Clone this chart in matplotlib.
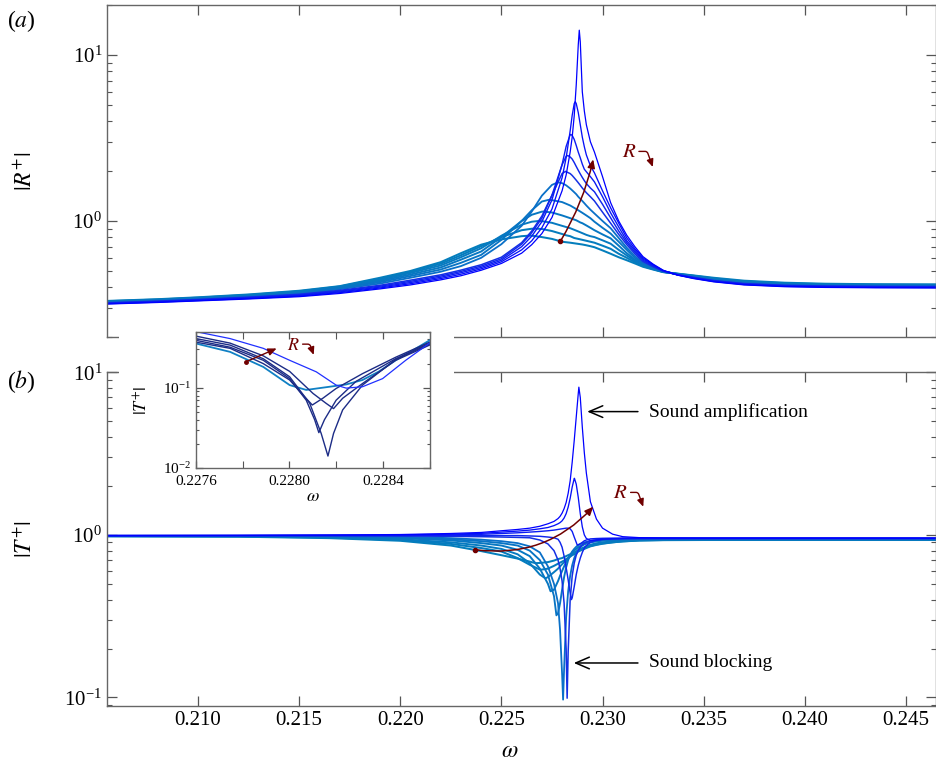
import numpy as np
import matplotlib
matplotlib.use('Agg')
import matplotlib.pyplot as plt
import matplotlib.ticker as mticker
import matplotlib.transforms as mtransforms
from matplotlib.patches import Rectangle

plt.rcParams['font.family'] = 'serif'
plt.rcParams['font.serif'] = ['Liberation Serif', 'DejaVu Serif']
plt.rcParams['mathtext.fontset'] = 'stix'

## |R+| curves, 11 values of R (index 0 = sharpest peak)
R_w = [0.2055, 0.208, 0.210, 0.2125, 0.215, 0.217, 0.219, 0.2205, 0.222, 0.223, 0.224, 0.225,
       0.226, 0.2265, 0.227, 0.2275, 0.228, 0.2282, 0.2284, 0.2285, 0.2286, 0.2287, 0.2288, 0.2289,
       0.2290, 0.2291, 0.2292, 0.2294,
       0.2296, 0.2300, 0.2304, 0.2308, 0.2312, 0.2316, 0.2320, 0.2325, 0.2330, 0.2337, 0.2345, 0.2355,
       0.2370, 0.2390, 0.2410, 0.2435, 0.2465]
R_vals = [
    [0.316, 0.323, 0.330, 0.339, 0.350, 0.366, 0.390, 0.412, 0.442, 0.468, 0.505, 0.555,
     0.640, 0.720, 0.840, 1.05, 1.52, 1.89, 2.60, 3.20, 4.30, 6.60, 11.5, 12.0, 6.0, 4.6, 3.8, 3.0,
     2.6, 1.85, 1.29, 1.0, 0.82, 0.70, 0.61, 0.55, 0.505, 0.472, 0.450, 0.430, 0.412, 0.402, 0.398, 0.396, 0.395],
    [0.3174, 0.3245, 0.3317, 0.3412, 0.353, 0.370, 0.395, 0.419, 0.450, 0.478, 0.515, 0.568,
     0.670, 0.760, 0.910, 1.18, 1.82, 2.40, 3.49, 4.33, 5.09, 5.10, 4.50, 3.80, 3.20, 2.80, 2.50, 2.15,
     1.95, 1.52, 1.20, 0.97, 0.79, 0.68, 0.60, 0.545, 0.503, 0.473, 0.452, 0.432, 0.414, 0.404, 0.400, 0.398, 0.397],
    [0.3188, 0.326, 0.3334, 0.3434, 0.356, 0.374, 0.400, 0.426, 0.458, 0.488, 0.525, 0.580,
     0.700, 0.810, 0.990, 1.34, 2.19, 2.81, 3.31, 3.28, 3.10, 2.85, 2.60, 2.40, 2.20, 2.05, 1.98, 1.85,
     1.72, 1.40, 1.12, 0.92, 0.76, 0.665, 0.59, 0.54, 0.501, 0.474, 0.454, 0.434, 0.416, 0.406, 0.402, 0.400, 0.399],
    [0.3202, 0.3275, 0.3351, 0.3456, 0.359, 0.378, 0.405, 0.433, 0.466, 0.497, 0.535, 0.592,
     0.725, 0.850, 1.04, 1.43, 2.18, 2.45, 2.43, 2.36, 2.25, 2.13, 2.02, 1.92, 1.83, 1.75, 1.68, 1.58,
     1.50, 1.26, 1.045, 0.87, 0.74, 0.65, 0.58, 0.535, 0.500, 0.475, 0.456, 0.436, 0.418, 0.408, 0.404, 0.402, 0.401],
    [0.3216, 0.329, 0.3368, 0.3478, 0.362, 0.382, 0.410, 0.440, 0.474, 0.506, 0.545, 0.605,
     0.740, 0.870, 1.07, 1.43, 1.93, 1.98, 1.93, 1.88, 1.82, 1.76, 1.70, 1.64, 1.58, 1.53, 1.48, 1.40,
     1.32, 1.13, 0.97, 0.83, 0.72, 0.635, 0.57, 0.53, 0.498, 0.476, 0.458, 0.438, 0.420, 0.410, 0.406, 0.404, 0.403],
    [0.323, 0.3305, 0.3385, 0.350, 0.365, 0.388, 0.420, 0.455, 0.495, 0.535, 0.600, 0.725,
     0.935, 1.14, 1.42, 1.65, 1.69, 1.64, 1.57, 1.53, 1.49, 1.45, 1.40, 1.36, 1.32, 1.28, 1.24, 1.17,
     1.11, 1.00, 0.905, 0.79, 0.69, 0.615, 0.56, 0.525, 0.497, 0.477, 0.460, 0.440, 0.422, 0.412, 0.408, 0.406, 0.405],
    [0.3244, 0.332, 0.3402, 0.3522, 0.368, 0.393, 0.428, 0.466, 0.510, 0.560, 0.625, 0.770,
     1.00, 1.16, 1.31, 1.335, 1.30, 1.27, 1.24, 1.22, 1.20, 1.18, 1.16, 1.14, 1.12, 1.10, 1.08, 1.04,
     0.99, 0.91, 0.84, 0.75, 0.67, 0.60, 0.555, 0.52, 0.496, 0.478, 0.462, 0.442, 0.424, 0.414, 0.410, 0.408, 0.407],
    [0.3258, 0.3335, 0.3419, 0.3544, 0.371, 0.397, 0.435, 0.476, 0.525, 0.585, 0.655, 0.800,
     1.00, 1.09, 1.138, 1.125, 1.08, 1.06, 1.04, 1.03, 1.02, 1.01, 0.995, 0.98, 0.97, 0.955, 0.94, 0.91,
     0.88, 0.83, 0.786, 0.71, 0.64, 0.585, 0.55, 0.517, 0.495, 0.479, 0.464, 0.445, 0.427, 0.417, 0.412, 0.410, 0.409],
    [0.3272, 0.335, 0.3436, 0.3566, 0.374, 0.400, 0.442, 0.486, 0.540, 0.605, 0.685, 0.815,
     0.950, 0.990, 0.998, 0.975, 0.935, 0.920, 0.905, 0.895, 0.885, 0.875, 0.865, 0.855, 0.845, 0.835, 0.825, 0.810,
     0.80, 0.765, 0.73, 0.67, 0.62, 0.575, 0.54, 0.515, 0.494, 0.480, 0.466, 0.448, 0.430, 0.419, 0.414, 0.412, 0.411],
    [0.3286, 0.3365, 0.3453, 0.3588, 0.377, 0.403, 0.449, 0.494, 0.553, 0.622, 0.705, 0.800,
     0.880, 0.898, 0.895, 0.870, 0.835, 0.820, 0.810, 0.800, 0.790, 0.785, 0.780, 0.775, 0.770, 0.765, 0.760, 0.750,
     0.74, 0.71, 0.68, 0.635, 0.60, 0.565, 0.535, 0.513, 0.493, 0.481, 0.468, 0.451, 0.433, 0.422, 0.416, 0.414, 0.413],
    [0.330, 0.338, 0.347, 0.361, 0.380, 0.405, 0.455, 0.500, 0.565, 0.640, 0.720, 0.775,
     0.810, 0.816, 0.800, 0.780, 0.750, 0.745, 0.740, 0.737, 0.734, 0.731, 0.728, 0.725, 0.722, 0.718, 0.714, 0.705,
     0.695, 0.665, 0.635, 0.605, 0.58, 0.555, 0.53, 0.51, 0.492, 0.482, 0.470, 0.455, 0.437, 0.425, 0.419, 0.416, 0.415],
]
R_pk_w = [0.22885, 0.22865, 0.22843, 0.22828, 0.22817, 0.2278, 0.22733, 0.22708, 0.22683, 0.22668, 0.22644]
R_pk_v = [14.1, 5.23, 3.32, 2.48, 1.99, 1.71, 1.34, 1.14, 1.00, 0.90, 0.817]

## |T+| curves, same 11 values of R
T_w = [0.2055, 0.212, 0.2165, 0.2200, 0.2225, 0.2240, 0.2250, 0.2258, 0.2264, 0.2269, 0.2273, 0.2276,
       0.2278, 0.2279, 0.2280, 0.2281, 0.2282, 0.2283, 0.2284, 0.2285, 0.2286, 0.2287, 0.2288, 0.2289,
       0.2290, 0.2291, 0.2292, 0.2294,
       0.2297, 0.2300, 0.2305, 0.2310, 0.2318, 0.2330, 0.2350, 0.2400, 0.2465]
T_vals = [
    [0.99, 0.993, 0.998, 1.005, 1.02, 1.035, 1.06, 1.08, 1.10, 1.13, 1.17, 1.21,
     1.26, 1.30, 1.36, 1.45, 1.58, 1.80, 2.15, 2.80, 3.80, 5.30, 7.40, 7.00, 4.60, 3.20, 2.40, 1.60,
     1.25, 1.10, 1.01, 0.975, 0.962, 0.957, 0.955, 0.955, 0.955],
    [0.99, 0.992, 0.995, 1.0, 1.01, 1.022, 1.04, 1.055, 1.07, 1.09, 1.11, 1.14,
     1.17, 1.19, 1.22, 1.27, 1.35, 1.48, 1.68, 1.97, 2.22, 2.05, 1.70, 1.35, 1.12, 1.00, 0.95, 0.925,
     0.93, 0.94, 0.948, 0.952, 0.955, 0.955, 0.955, 0.955, 0.953],
    [0.99, 0.99, 0.992, 0.995, 1.0, 1.008, 1.02, 1.03, 1.04, 1.05, 1.06, 1.07,
     1.08, 1.085, 1.09, 1.095, 1.10, 1.10, 1.09, 1.05, 0.97, 0.90, 0.87, 0.88, 0.90, 0.92, 0.93, 0.945,
     0.95, 0.953, 0.955, 0.955, 0.955, 0.955, 0.955, 0.955, 0.955],
    [0.99, 0.99, 0.99, 0.99, 0.99, 0.99, 0.99, 0.99, 0.985, 0.98, 0.97, 0.96,
     0.94, 0.90, 0.84, 0.74, 0.63, 0.53, 0.44, 0.41, 0.48, 0.57, 0.65, 0.72, 0.78, 0.83, 0.86, 0.90,
     0.925, 0.937, 0.945, 0.948, 0.95, 0.95, 0.95, 0.95, 0.95],
    [0.99, 0.99, 0.99, 0.985, 0.98, 0.975, 0.97, 0.965, 0.96, 0.93, 0.88, 0.80,
     0.70, 0.62, 0.52, 0.38, 0.20, 0.19, 0.40, 0.56, 0.67, 0.75, 0.80, 0.84, 0.87, 0.89, 0.90, 0.92,
     0.932, 0.94, 0.945, 0.948, 0.95, 0.95, 0.95, 0.95, 0.95],
    [0.985, 0.985, 0.982, 0.975, 0.955, 0.935, 0.915, 0.89, 0.85, 0.78, 0.64, 0.50,
     0.38, 0.26, 0.14, 0.15, 0.31, 0.45, 0.56, 0.65, 0.72, 0.77, 0.81, 0.84, 0.86, 0.875, 0.89, 0.905,
     0.92, 0.93, 0.938, 0.943, 0.945, 0.945, 0.945, 0.945, 0.945],
    [0.985, 0.985, 0.978, 0.965, 0.94, 0.915, 0.89, 0.86, 0.80, 0.70, 0.57, 0.42,
     0.33, 0.38, 0.46, 0.55, 0.63, 0.70, 0.75, 0.79, 0.82, 0.845, 0.865, 0.88, 0.89, 0.90, 0.905, 0.915,
     0.925, 0.932, 0.938, 0.942, 0.945, 0.945, 0.945, 0.945, 0.945],
    [0.985, 0.983, 0.973, 0.955, 0.925, 0.89, 0.86, 0.81, 0.74, 0.62, 0.50, 0.46,
     0.52, 0.56, 0.60, 0.64, 0.68, 0.72, 0.75, 0.78, 0.80, 0.82, 0.84, 0.855, 0.865, 0.875, 0.885, 0.90,
     0.912, 0.92, 0.928, 0.935, 0.94, 0.94, 0.94, 0.94, 0.94],
    [0.983, 0.98, 0.968, 0.94, 0.90, 0.86, 0.82, 0.76, 0.67, 0.57, 0.55, 0.59,
     0.62, 0.64, 0.66, 0.68, 0.70, 0.72, 0.74, 0.76, 0.775, 0.79, 0.805, 0.82, 0.83, 0.84, 0.85, 0.87,
     0.888, 0.90, 0.912, 0.922, 0.93, 0.935, 0.935, 0.935, 0.935],
    [0.982, 0.978, 0.963, 0.93, 0.88, 0.83, 0.79, 0.72, 0.655, 0.612, 0.62, 0.645,
     0.665, 0.675, 0.685, 0.695, 0.71, 0.72, 0.735, 0.75, 0.76, 0.775, 0.79, 0.80, 0.81, 0.82, 0.83, 0.85,
     0.868, 0.882, 0.90, 0.912, 0.925, 0.93, 0.932, 0.932, 0.932],
    [0.98, 0.975, 0.955, 0.92, 0.86, 0.795, 0.75, 0.715, 0.685, 0.672, 0.68, 0.695,
     0.71, 0.715, 0.72, 0.73, 0.74, 0.75, 0.76, 0.77, 0.78, 0.79, 0.80, 0.81, 0.82, 0.83, 0.84, 0.855,
     0.872, 0.886, 0.90, 0.912, 0.922, 0.928, 0.93, 0.93, 0.93],
]
T_ext_w = [0.22883, 0.22861, 0.22875, 0.22846, 0.22825, 0.22805, 0.22772, 0.22743, 0.22718, 0.22693, 0.22668]
T_ext_v = [8.1, 2.23, 0.865, 0.40, 0.099, 0.097, 0.32, 0.45, 0.54, 0.61, 0.67]

## inset: |T+| near the zero, 6 values of R
ins_w = [
    [0.2276, 0.227746, 0.227888, 0.228001, 0.228072, 0.228172, 0.228243, 0.228313, 0.228384, 0.228455, 0.228526, 0.2286],
    [0.2276, 0.227746, 0.227888, 0.228001, 0.228058, 0.228098, 0.228143, 0.2282, 0.228313, 0.228455, 0.2286],
    [0.2276, 0.227746, 0.227888, 0.228001, 0.228072, 0.228108, 0.228126, 0.22815, 0.2282, 0.228285, 0.228455, 0.2286],
    [0.2276, 0.227746, 0.227888, 0.228001, 0.228087, 0.228136, 0.228165, 0.228189, 0.228228, 0.228313, 0.228455, 0.2286],
    [0.2276, 0.227746, 0.227888, 0.228001, 0.228101, 0.228157, 0.228189, 0.228228, 0.228313, 0.228455, 0.2286],
    [0.2276, 0.227746, 0.227888, 0.228001, 0.228115, 0.2282, 0.228243, 0.228313, 0.228399, 0.228498, 0.2286],
]
ins_v = [
    [0.356, 0.28, 0.182, 0.108, 0.094, 0.103, 0.11, 0.125, 0.16, 0.22, 0.29, 0.39],
    [0.37, 0.31, 0.20, 0.125, 0.081, 0.061, 0.074, 0.098, 0.15, 0.24, 0.37],
    [0.39, 0.32, 0.22, 0.13, 0.07, 0.04, 0.0276, 0.04, 0.07, 0.12, 0.23, 0.36],
    [0.41, 0.34, 0.23, 0.137, 0.064, 0.027, 0.0141, 0.027, 0.053, 0.108, 0.225, 0.35],
    [0.44, 0.36, 0.25, 0.16, 0.085, 0.064, 0.055, 0.074, 0.113, 0.22, 0.34],
    [0.50, 0.41, 0.31, 0.22, 0.158, 0.108, 0.099, 0.103, 0.13, 0.22, 0.36],
]

colors = ['#0000ff', '#0610f8', '#0b1cf2', '#1026ec', '#1430e4',
          '#0a70c8', '#0874c4', '#0777c2', '#067ac0', '#057cbe', '#047ebc']
lws = [0.9, 0.95, 1.0, 1.05, 1.1, 1.3, 1.35, 1.4, 1.4, 1.45, 1.45]
ins_colors = ['#1080c4', '#1c2c86', '#1c2c86', '#1c2c86', '#1c2c86', '#2030ff']
ins_lws = [1.3, 1.0, 1.0, 1.0, 1.0, 0.9]
dark_red = '#700000'


def draw_family(ax, grid, vals, ext_w, ext_v):
    # draw teal first so the blue ones sit on top
    for k in reversed(range(len(vals))):
        w = np.append(grid, ext_w[k])
        v = np.append(vals[k], ext_v[k])
        order = np.argsort(w)
        ax.plot(w[order], v[order], color=colors[k], lw=lws[k], solid_joinstyle='round')


def style_axis(ax, size):
    ax.tick_params(which='both', direction='in', top=True, right=True,
                   colors='#555555', labelcolor='black', labelsize=size)
    ax.tick_params(which='major', length=7, width=0.9)
    ax.tick_params(which='minor', length=3.5, width=0.8)
    for s in ax.spines.values():
        s.set_color('#666666')
        s.set_linewidth(1.0)
    ax.yaxis.set_minor_formatter(mticker.NullFormatter())


def r_label(ax, x, y, fs, start, end):
    ax.text(x, y, '$R$', color=dark_red, fontsize=fs, ha='left', va='center')
    t0 = ax.transData + mtransforms.ScaledTranslation(start[0] / 72, start[1] / 72, fig.dpi_scale_trans)
    t1 = ax.transData + mtransforms.ScaledTranslation(end[0] / 72, end[1] / 72, fig.dpi_scale_trans)
    ax.annotate('', xy=(x, y), xycoords=t1, xytext=(x, y), textcoords=t0,
                arrowprops=dict(arrowstyle='-|>,head_length=0.45,head_width=0.2',
                                connectionstyle='angle,angleA=0,angleB=110,rad=2',
                                color=dark_red, lw=1.0, shrinkA=0, shrinkB=0))


fig = plt.figure(figsize=(9.37, 7.66), dpi=100)
ax1 = fig.add_axes([0.1142, 0.5600, 0.8850, 0.4335])
ax2 = fig.add_axes([0.1142, 0.0787, 0.8850, 0.4353])

for ax in (ax1, ax2):
    ax.set_yscale('log')
    ax.set_xlim(0.2055, 0.2465)
    ax.xaxis.set_major_locator(mticker.MultipleLocator(0.005))
    style_axis(ax, 15)

## (a) reflection
draw_family(ax1, R_w, R_vals, R_pk_w, R_pk_v)
ax1.set_ylim(0.2, 20)
ax1.tick_params(labelbottom=False)
ax1.set_ylabel('$|R^{+}|$', fontsize=17)
ax1.yaxis.set_label_coords(-0.085, 0.5)
ax1.plot(0.22792, 0.756, 'o', ms=3, color=dark_red, zorder=5)
ax1.annotate('', xy=(0.22954, 2.35), xytext=(0.22792, 0.756),
             arrowprops=dict(arrowstyle='-|>,head_length=0.5,head_width=0.22', color=dark_red, lw=1.1,
                             shrinkA=0, shrinkB=0, connectionstyle='arc3,rad=0.08'), zorder=5)
r_label(ax1, 0.230975, 2.59, 15, (12, 0.7), (22, -10.5))

## (b) transmission
draw_family(ax2, T_w, T_vals, T_ext_w, T_ext_v)
ax2.set_ylim(0.089, 10)
ax2.xaxis.set_major_formatter(mticker.FormatStrFormatter('%.3f'))
ax2.set_ylabel('$|T^{+}|$', fontsize=17)
ax2.yaxis.set_label_coords(-0.085, 0.5)
ax2.set_xlabel('$\\omega$', fontsize=17)
ax2.xaxis.set_label_coords(0.486, -0.105)
ax2.plot(0.22371, 0.81, 'o', ms=3, color=dark_red, zorder=5)
ax2.annotate('', xy=(0.22954, 1.49), xytext=(0.22371, 0.81),
             arrowprops=dict(arrowstyle='-|>,head_length=0.5,head_width=0.22', color=dark_red, lw=1.1,
                             shrinkA=0, shrinkB=0, connectionstyle='arc3,rad=0.26'), zorder=5)
r_label(ax2, 0.23053, 1.80, 15, (12.5, 0.7), (21.6, -9.6))

ax2.annotate('Sound amplification', xy=(0.229243, 5.73), xytext=(0.2323, 5.73),
             ha='left', va='center', fontsize=14,
             arrowprops=dict(arrowstyle='->,head_length=0.7,head_width=0.3', color='black', lw=1.1,
                             shrinkA=6, shrinkB=0))
ax2.annotate('Sound blocking', xy=(0.228579, 0.163), xytext=(0.2323, 0.163),
             ha='left', va='center', fontsize=14,
             arrowprops=dict(arrowstyle='->,head_length=0.7,head_width=0.3', color='black', lw=1.1,
                             shrinkA=6, shrinkB=0))

fig.text(0.008, 0.990, '($a$)', fontsize=17, ha='left', va='top')
fig.text(0.008, 0.520, '($b$)', fontsize=17, ha='left', va='top')

## white patch behind the inset hides the spines there
fig.add_artist(Rectangle((0.127, 0.341), 0.357, 0.2386, transform=fig.transFigure,
                         facecolor='white', edgecolor='none', zorder=1))

ax3 = fig.add_axes([0.2092, 0.389, 0.2492, 0.178])
ax3.set_zorder(3)
for k in range(len(ins_w)):
    ax3.plot(ins_w[k], ins_v[k], color=ins_colors[k], lw=ins_lws[k])
ax3.set_yscale('log')
ax3.set_xlim(0.2276, 0.2286)
ax3.set_ylim(0.01, 0.5)
ax3.xaxis.set_major_locator(mticker.MultipleLocator(0.0004))
ax3.xaxis.set_minor_locator(mticker.MultipleLocator(0.0002))
ax3.xaxis.set_major_formatter(mticker.FormatStrFormatter('%.4f'))
style_axis(ax3, 11)
ax3.tick_params(which='major', length=5)
ax3.tick_params(axis='x', which='minor', length=5)
ax3.tick_params(axis='x', which='major', pad=5)
ax3.tick_params(axis='y', which='minor', length=2.5)
ax3.set_ylabel('$|T^{+}|$', fontsize=13)
ax3.yaxis.set_label_coords(-0.19, 0.5)
ax3.set_xlabel('$\\omega$', fontsize=13)
ax3.xaxis.set_label_coords(0.5, -0.15)
ax3.plot(0.227814, 0.211, 'o', ms=2.5, color=dark_red, zorder=5)
ax3.annotate('', xy=(0.227945, 0.309), xytext=(0.227814, 0.211),
             arrowprops=dict(arrowstyle='-|>,head_length=0.5,head_width=0.22', color=dark_red, lw=1.0,
                             shrinkA=0, shrinkB=0), zorder=5)
r_label(ax3, 0.227991, 0.34, 13, (11, 0.7), (19, -7))

fig.savefig('out.png', dpi=100)
